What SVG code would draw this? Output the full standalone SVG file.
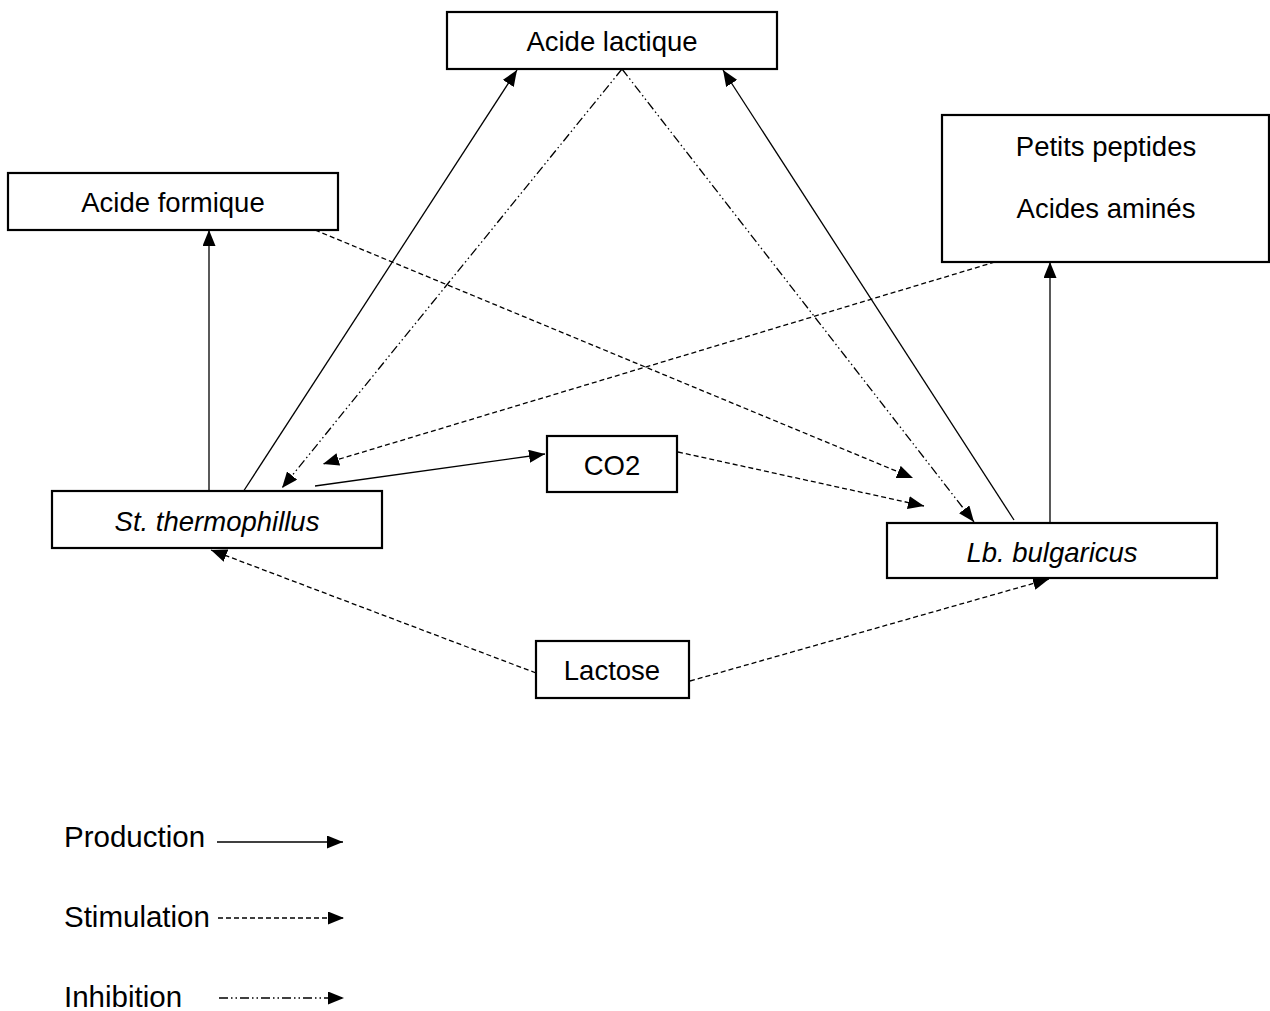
<svg xmlns="http://www.w3.org/2000/svg" width="1270" height="1011" viewBox="0 0 1270 1011">
<style>
.box{fill:#fff;stroke:#000;stroke-width:2.2}
.t{font-family:"Liberation Sans",Arial,sans-serif;font-size:27.5px;fill:#000;text-anchor:middle}
.it{font-style:italic}
.lg{font-family:"Liberation Sans",Arial,sans-serif;font-size:29.5px;fill:#000}
.c{fill:none;stroke:#000;stroke-width:1.3}
.prod{}
.stim{stroke-dasharray:5 3}
.inh{stroke-dasharray:9 3 1.5 3 1.5 3}
</style>
<defs>
<marker id="ah" viewBox="0 0 16 13" refX="16" refY="6.5" markerWidth="16" markerHeight="13" markerUnits="userSpaceOnUse" orient="auto">
<path d="M0,0 L16,6.5 L0,13 z" fill="#000"/>
</marker>
</defs>
<rect width="1270" height="1011" fill="#fff"/>
<g id="connectors">
<line class="c prod" x1="209" y1="491" x2="209" y2="230" marker-end="url(#ah)"/>
<line class="c prod" x1="243" y1="492" x2="517" y2="70" marker-end="url(#ah)"/>
<line class="c prod" x1="315" y1="486" x2="545" y2="454" marker-end="url(#ah)"/>
<line class="c prod" x1="1014" y1="520" x2="723" y2="70" marker-end="url(#ah)"/>
<line class="c prod" x1="1050" y1="522" x2="1050" y2="262" marker-end="url(#ah)"/>
<line class="c stim" x1="315" y1="230" x2="913" y2="478" marker-end="url(#ah)"/>
<line class="c stim" x1="678" y1="452" x2="924" y2="506" marker-end="url(#ah)"/>
<line class="c stim" x1="995" y1="262" x2="323" y2="464" marker-end="url(#ah)"/>
<line class="c stim" x1="536" y1="673" x2="211" y2="550" marker-end="url(#ah)"/>
<line class="c stim" x1="690" y1="681" x2="1049" y2="579" marker-end="url(#ah)"/>
<line class="c inh" x1="622" y1="69" x2="282" y2="488" marker-end="url(#ah)"/>
<line class="c inh" x1="622" y1="69" x2="974" y2="522" marker-end="url(#ah)"/>
</g>
<g id="acide-lactique">
<rect class="box" x="447" y="12" width="330" height="57"/>
<text class="t" x="612" y="51">Acide lactique</text>
</g>
<g id="acide-formique">
<rect class="box" x="8" y="173" width="330" height="57"/>
<text class="t" x="173" y="212">Acide formique</text>
</g>
<g id="peptides">
<rect class="box" x="942" y="115" width="327" height="147"/>
<text class="t" x="1106" y="156">Petits peptides</text>
<text class="t" x="1106" y="218">Acides aminés</text>
</g>
<g id="st-thermophillus">
<rect class="box" x="52" y="491" width="330" height="57"/>
<text class="t it" x="217" y="531">St. thermophillus</text>
</g>
<g id="co2">
<rect class="box" x="547" y="436" width="130" height="56"/>
<text class="t" x="612" y="475">CO2</text>
</g>
<g id="lb-bulgaricus">
<rect class="box" x="887" y="523" width="330" height="55"/>
<text class="t it" x="1052" y="562">Lb. bulgaricus</text>
</g>
<g id="lactose">
<rect class="box" x="536" y="641" width="153" height="57"/>
<text class="t" x="612" y="680">Lactose</text>
</g>
<g id="legend">
<text class="lg" x="64" y="847">Production</text>
<line class="c prod" x1="217" y1="842" x2="343" y2="842" marker-end="url(#ah)"/>
<text class="lg" x="64" y="927">Stimulation</text>
<line class="c stim" x1="218" y1="918" x2="344" y2="918" marker-end="url(#ah)"/>
<text class="lg" x="64" y="1007">Inhibition</text>
<line class="c inh" x1="219" y1="998" x2="344" y2="998" marker-end="url(#ah)"/>
</g>
</svg>
